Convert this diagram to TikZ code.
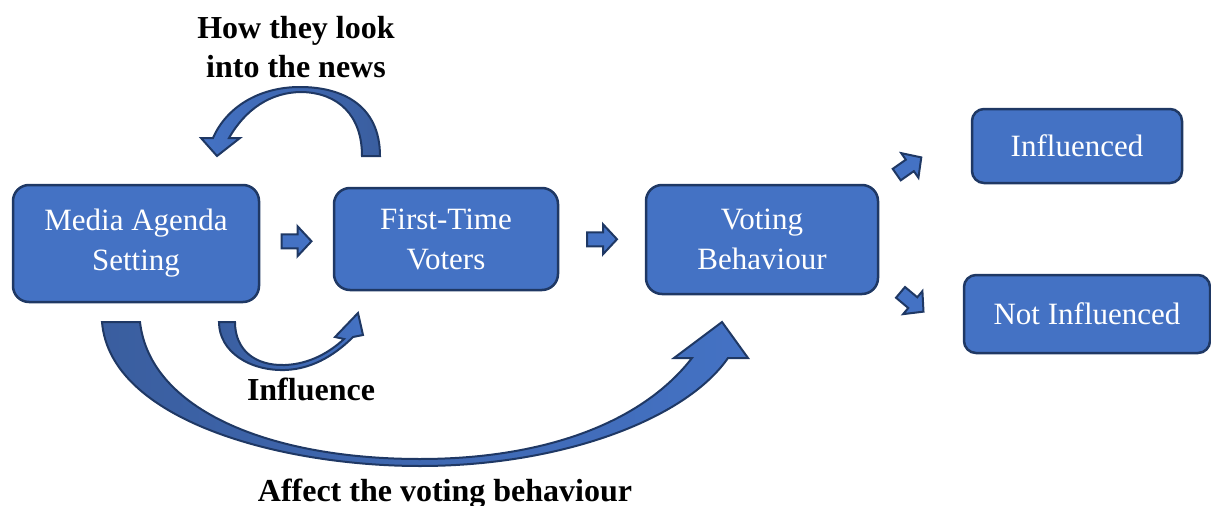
\documentclass[tikz,border=0pt]{standalone}
\usepackage{fontspec}
\setmainfont{Liberation Serif}
\usetikzlibrary{calc}
\definecolor{boxblue}{HTML}{4472C4}
\definecolor{darkblue}{HTML}{3A5E9F}
\definecolor{edgeblue}{HTML}{1F3864}
\tikzset{
	box/.style={draw=edgeblue, line width=2.5pt, fill=boxblue, rounded corners=16pt, text=white, align=center, font=\fontsize{31}{40}\selectfont},
	lbl/.style={align=center, font=\bfseries\fontsize{32}{39}\selectfont},
	curved/.style={draw=edgeblue, line width=2pt, left color=darkblue, right color=boxblue},
	blockarr/.pic={
		\path[draw=edgeblue, line width=2pt, fill=boxblue] (-15,-7) -- (1,-7) -- (1,-15) -- (15,0) -- (1,15) -- (1,7) -- (-15,7) -- cycle;
	}
}
\begin{document}
\begin{tikzpicture}[x=1pt, y=-1pt]
\useasboundingbox (0,0) rectangle (1211,506);
\node[box, minimum width=246pt, minimum height=117pt] (media) at (136,243.5) {Media Agenda\\Setting};
\node[box, minimum width=224pt, minimum height=102pt] (first) at (446,239) {First-Time\\Voters};
\node[box, minimum width=232pt, minimum height=109pt] (voting) at (762,239.5) {Voting\\Behaviour};
\node[box, minimum width=210pt, minimum height=74pt, rounded corners=12pt] (yes) at (1077,146) {Influenced};
\node[box, minimum width=246pt, minimum height=78pt, rounded corners=12pt] (no) at (1087,314) {Not Influenced};
\foreach \a/\b in {media/first, first/voting}
	\pic at ($(\a.east)!0.5!(\b.west)$) {blockarr};
\pic[rotate=35] at (909,166) {blockarr};
\pic[rotate=-40] at (912,302) {blockarr};
\path[curved, left color=boxblue, right color=darkblue] (380,156) .. controls (380,105) and (342,87) .. (300,87) .. controls (258,87) and (226,108) .. (213,138) -- (201,138) -- (217,156) -- (240,138) -- (229,138) .. controls (245,110) and (270,92) .. (302,92) .. controls (338,93) and (362,115) .. (362,156) -- cycle;
\path[curved] (219,322) .. controls (219,352) and (250,371) .. (285,370) .. controls (315,369) and (338,352) .. (353,337) -- (363,335) -- (358,313) -- (335,337) -- (344,339) .. controls (330,352) and (310,364) .. (285,365) .. controls (255,366) and (235,350) .. (235,322) -- cycle;
\path[curved] (102,322) .. controls (110,420) and (280,466) .. (420,466) .. controls (560,466) and (685,420) .. (728,358) -- (748,358) -- (722,322) -- (674,358) -- (692,358) .. controls (640,425) and (540,459) .. (420,459) .. controls (270,459) and (150,410) .. (140,322) -- cycle;
\node[lbl] (news) at (296,47.5) {How they look\\into the news};
\node[lbl, anchor=base] (infl) at (311,400) {Influence};
\node[lbl, anchor=base] (affect) at (445,501) {Affect the voting behaviour};
\end{tikzpicture}
\end{document}
